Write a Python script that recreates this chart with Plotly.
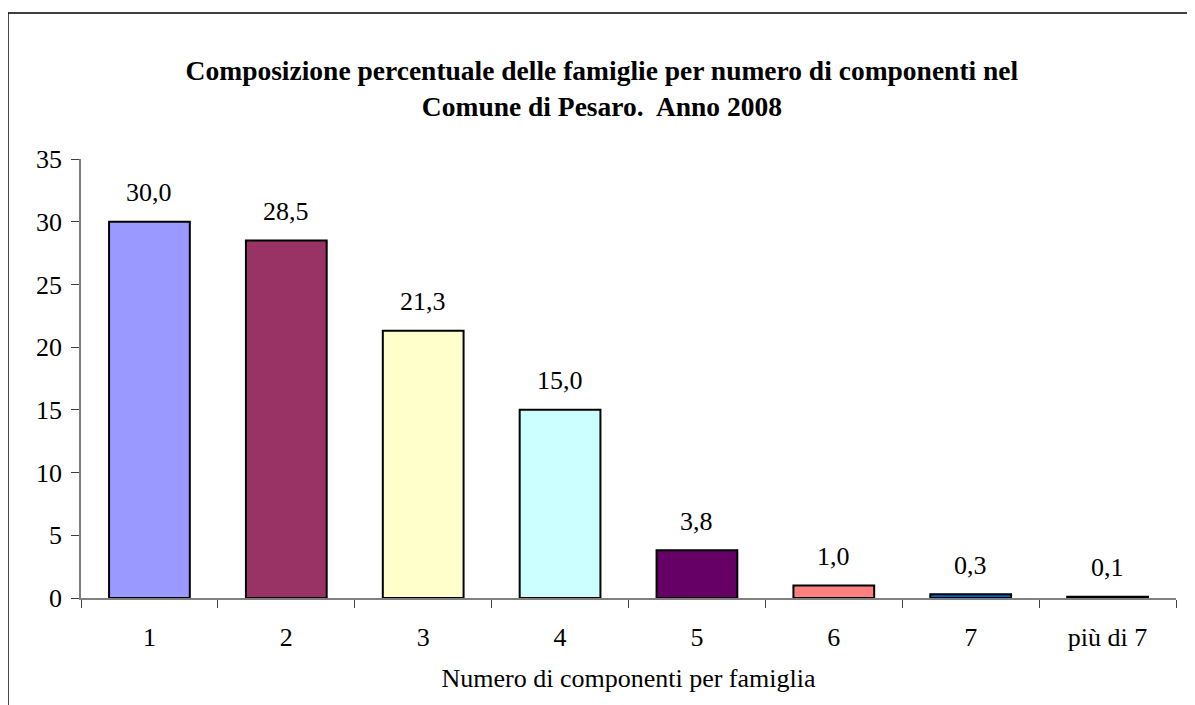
import plotly.graph_objects as go

# dati: composizione percentuale delle famiglie, Pesaro 2008
categorie = ["1", "2", "3", "4", "5", "6", "7", "più di 7"]
percentuali = [30.0, 28.5, 21.3, 15.0, 3.8, 1.0, 0.3, 0.1]
colori = ["#9999FF", "#993366", "#FFFFCC", "#CCFFFF", "#660066",
          "#FF8080", "#0066CC", "#CCCCFF"]
etichette = [f"{v:.1f}".replace(".", ",") for v in percentuali]

FONT = "Liberation Serif, serif"
SIZE = 26

fig = go.Figure()
fig.add_trace(go.Bar(
    x=categorie, y=percentuali,
    marker=dict(color=colori, line=dict(color="black", width=2)),
    hoverinfo="x+y",
))

# etichette sopra le barre (x = indice della categoria)
for i, (v, t) in enumerate(zip(percentuali, etichette)):
    fig.add_annotation(x=i, y=v, text=t, showarrow=False,
                       yanchor="middle", yshift=29,
                       font=dict(family=FONT, size=SIZE, color="black"))

# cornice del grafico (solo lati alto e sinistro visibili)
fig.add_shape(type="rect", xref="paper", yref="paper",
              x0=-0.0667, x1=1.2, y0=-0.5, y1=1.3326,
              line=dict(color="black", width=1.5))

fig.update_layout(
    width=1195, height=705,
    margin=dict(l=73, r=27, t=151, b=115),
    paper_bgcolor="white", plot_bgcolor="white",
    font=dict(family=FONT, size=SIZE, color="black"),
    title=dict(
        text="<b>Composizione percentuale delle famiglie per numero di componenti nel<br>Comune di Pesaro.  Anno 2008</b>",
        x=0.497, xanchor="center", yref="container", y=0.898, yanchor="middle",
        font=dict(family=FONT, size=27.5, color="black"),
    ),
    bargap=0.41,
    showlegend=False,
    xaxis=dict(
        type="category",
        showline=True, linecolor="#808080", linewidth=1.5,
        ticks="outside", tickson="boundaries", ticklen=8,
        tickcolor="#404040", tickwidth=1,
        showgrid=False,
        tickfont=dict(size=SIZE),
        ticklabelstandoff=15,
        title=dict(text="Numero di componenti per famiglia", standoff=18,
                   font=dict(size=SIZE)),
    ),
    yaxis=dict(
        range=[0, 35], dtick=5,
        showline=True, linecolor="#808080", linewidth=1.5,
        ticks="outside", ticklen=8, tickcolor="#404040", tickwidth=1,
        showgrid=False, zeroline=False,
        tickfont=dict(size=SIZE),
        ticklabelstandoff=4,
    ),
)

fig.write_html("out.html")
